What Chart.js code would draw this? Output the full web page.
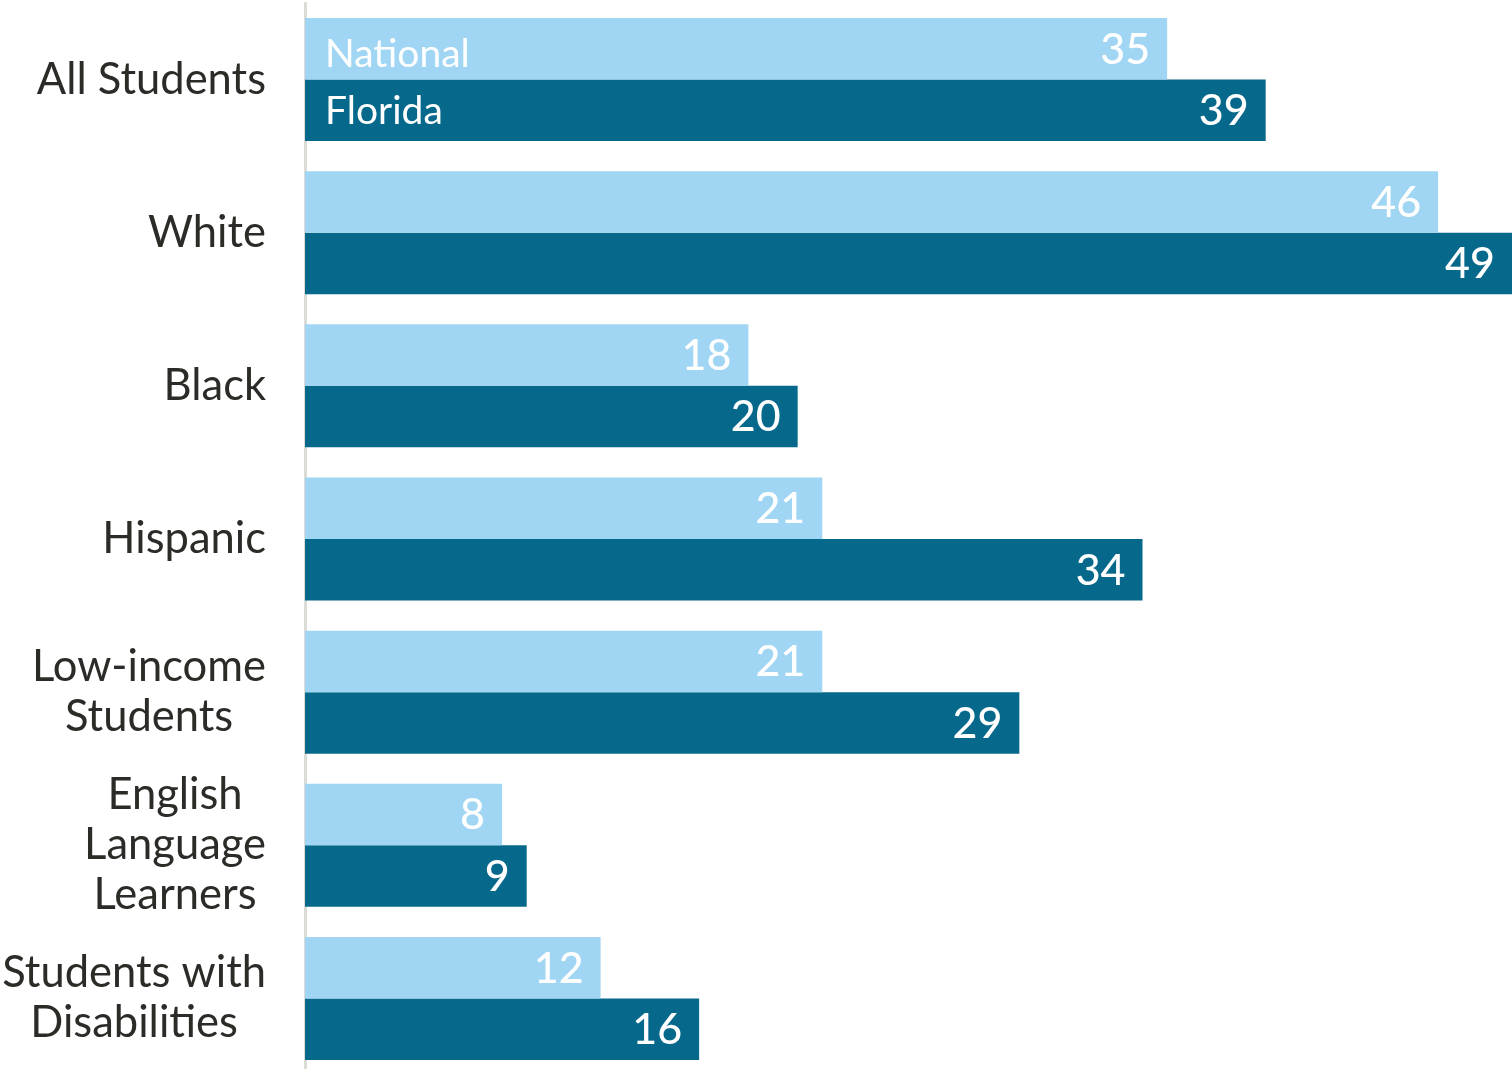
<!DOCTYPE html>
<html>
<head>
<meta charset="utf-8">
<script src="https://cdn.jsdelivr.net/npm/chart.js@4.4.1/dist/chart.umd.min.js"></script>
<style>
  html, body { margin: 0; padding: 0; background: #fff; overflow: hidden; }
  #wrap { width: 1512px; height: 1078px; }
</style>
</head>
<body>
<div id="wrap"><canvas id="chart"></canvas></div>
<script>
// Student groups, each label split into its lines
const groups = [
  ['All Students'],
  ['White'],
  ['Black'],
  ['Hispanic'],
  ['Low-income', 'Students'],
  ['English', 'Language', 'Learners'],
  ['Students with', 'Disabilities']
];
const nationalValues = [35, 46, 18, 21, 21, 8, 12];
const floridaValues = [39, 49, 20, 34, 29, 9, 16];

const FONT = 'Lato, "Open Sans", sans-serif';
const LIGHT = '#a0d6f3';
const DARK = '#06688b';

// Draws the group names, right edge aligned, lines centered on each other
const groupLabels = {
  id: 'groupLabels',
  afterDraw(chart) {
    const ctx = chart.ctx;
    const y = chart.scales.y;
    const lineH = 50;
    ctx.save();
    ctx.font = '43.5px ' + FONT;
    ctx.fillStyle = '#2b2b27';
    ctx.textBaseline = 'middle';
    ctx.textAlign = 'center';
    groups.forEach((lines, i) => {
      const cy = y.getPixelForValue(i);
      const w = Math.max(...lines.map(l => ctx.measureText(l).width));
      const cx = 266 - w / 2;
      const top = cy - (lines.length - 1) * lineH / 2;
      lines.forEach((l, j) => ctx.fillText(l, cx, top + j * lineH));
    });
    ctx.restore();
  }
};

// Value inside each bar end, series name inside the first pair of bars
const barText = {
  id: 'barText',
  afterDatasetsDraw(chart) {
    const ctx = chart.ctx;
    ctx.save();
    ctx.fillStyle = '#fff';
    ctx.textBaseline = 'middle';
    chart.data.datasets.forEach((ds, di) => {
      const meta = chart.getDatasetMeta(di);
      meta.data.forEach((bar, i) => {
        ctx.font = '500 43px ' + FONT;
        ctx.textAlign = 'right';
        ctx.fillText(String(ds.data[i]), bar.x - 17, bar.y + 1);
        if (i === 0) {
          ctx.font = '39px ' + FONT;
          ctx.textAlign = 'left';
          ctx.fillText(ds.label, bar.base + 20, bar.y + (di === 0 ? 6 : 1));
        }
      });
    });
    ctx.restore();
  }
};

new Chart(document.getElementById('chart'), {
  type: 'bar',
  data: {
    labels: groups.map(g => g.join(' ')),
    datasets: [
      { label: 'National', data: nationalValues, backgroundColor: LIGHT },
      { label: 'Florida', data: floridaValues, backgroundColor: DARK }
    ]
  },
  options: {
    indexAxis: 'y',
    responsive: true,
    maintainAspectRatio: false,
    animation: false,
    categoryPercentage: 0.803,
    barPercentage: 1,
    layout: { padding: { left: 0, top: 3, bottom: 3, right: 0 } },
    scales: {
      x: { display: false, min: 0, max: 49 },
      y: {
        ticks: { display: false },
        grid: { display: false },
        border: { display: true, color: '#dcdcd6', width: 3 },
        afterFit(scale) { scale.width = 305; }
      }
    },
    plugins: {
      legend: { display: false },
      tooltip: { enabled: false }
    }
  },
  plugins: [groupLabels, barText]
});
</script>
</body>
</html>
